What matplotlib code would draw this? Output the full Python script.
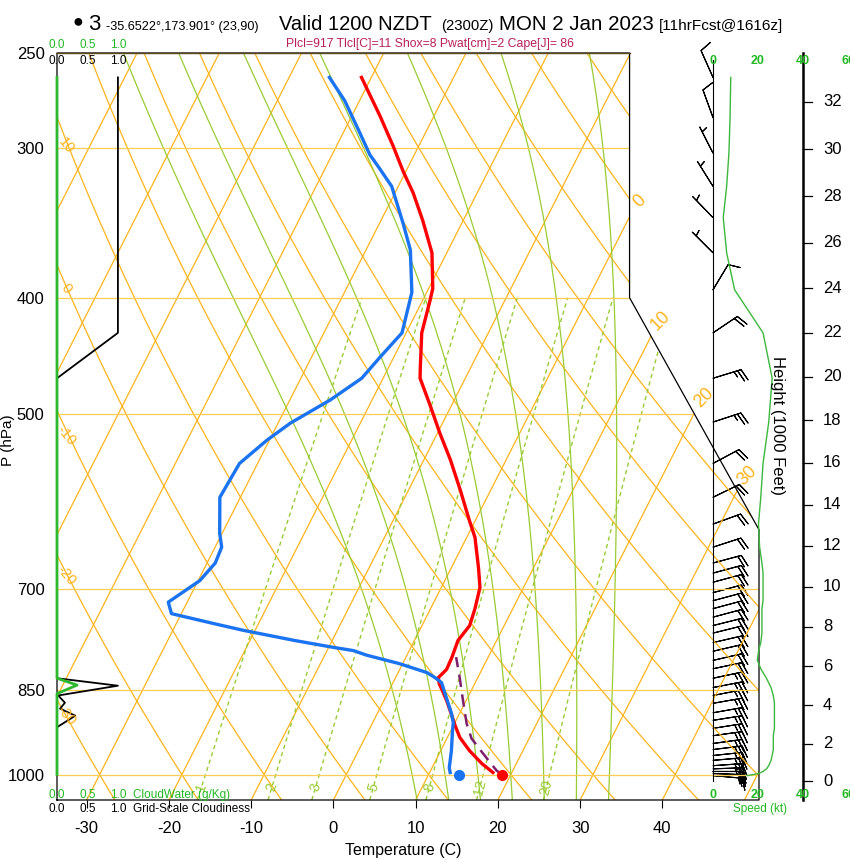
import numpy as np
import matplotlib
matplotlib.use("Agg")
from matplotlib import pyplot as plt

plt.rcParams['font.family'] = ['Liberation Sans', 'DejaVu Sans']

# ---- sounding (p in hPa, T in C) ----
temp_p = [996, 979, 955, 931, 910, 893, 867, 851, 840, 830, 817, 798, 773, 751, 727,
          698, 672, 634, 614, 579, 546, 519, 492, 467, 458, 428, 402, 393, 367, 345,
          327, 314, 299, 282, 262]
temp_t = [17.7, 15.8, 13.5, 11.5, 10.2, 9.2, 7.6, 6.5, 5.7, 5.2, 5.7, 5.6, 5.3, 5.8, 5.4,
          4.7, 3.3, 1.0, -0.7, -3.7, -6.8, -9.7, -12.6, -15.5, -16.1, -18.1, -19.1, -19.5,
          -21.8, -24.9, -27.8, -30.3, -33.1, -36.6, -41.2]

dewp_p = [996, 987, 955, 919, 905, 889, 864, 851, 838, 830, 822, 808, 795, 788, 783,
          773, 758, 749, 734, 718, 689, 666, 646, 629, 587, 550, 526, 509, 487, 467,
          449, 428, 396, 365, 347, 323, 312, 304, 289, 274, 262]
dewp_t = [12.5, 12.1, 11.3, 10.2, 9.8, 9.0, 7.5, 6.7, 5.9, 4.8, 3.5, -0.4, -4.9, -6.8,
          -9.5, -14.5, -21.4, -25.1, -31.2, -32.3, -29.8, -29.0, -29.2, -30.3, -32.5,
          -32.2, -30.3, -28.5, -25.1, -22.6, -21.7, -20.5, -21.8, -24.6, -27.1, -30.8,
          -33.4, -35.4, -38.5, -41.8, -45.1]

sfc_p = 1000
sfc_t = 18.9
sfc_td = 13.7

parcel_p = [1000, 992, 960, 933, 907, 867, 830, 798]
parcel_t = [18.9, 18.0, 15.3, 13.0, 11.5, 9.6, 7.8, 6.1]

# wind profile (direction deg, speed kt)
wind_p = [262, 283, 303, 323, 343, 367, 394, 428, 467, 508, 550, 587, 618, 646, 666,
          679, 691, 705, 716, 727, 739, 751, 762, 776, 789, 803, 816, 831, 846, 859,
          872, 888, 901, 915, 928, 942, 953, 964, 973, 983, 989, 994, 998, 1002]
wind_dir = [336, 340, 333, 328, 316, 315, 31, 56, 73, 72, 62, 64, 70, 72, 75,
            75, 75, 75, 75, 75, 75, 76, 76, 77, 77, 77, 78, 78, 79, 79,
            80, 80, 81, 81, 82, 82, 83, 84, 85, 86, 88, 90, 92, 95]
wind_spd = [7.8, 7.5, 7, 6, 4.5, 6, 9.5, 22, 26, 24.5, 22, 21, 20, 20.5, 21.5,
            22, 22, 22, 22, 21.5, 21.5, 21.5, 21.5, 21, 20, 19.5, 21, 23.5, 25.5, 26.5,
            27, 27, 27, 27, 26.5, 26.5, 26.5, 26, 25.5, 24.5, 23.5, 22, 20, 15]

# cloud panel
cloud_p = [262, 428, 467, 831, 843, 859, 871, 881, 893, 913, 1000]
cloud_frac = [1.0, 1.0, 0.0, 0.0, 1.0, 0.02, 0.13, 0.05, 0.3, 0.0, 0.0]
cwat_p = [262, 831, 842, 856, 1000]
cwat_val = [0.0, 0.0, 0.33, 0.0, 0.0]

isobars = [1000, 850, 700, 500, 400, 300]
p_ticks = [250, 300, 400, 500, 700, 850, 1000]
t_ticks = [-30, -20, -10, 0, 10, 20, 30, 40]
theta_lines = list(range(-30, 180, 10))
thetaw_lines = [8, 12, 16, 20, 24, 28, 32]
mixr_lines = [1, 2, 3, 5, 8, 12, 20]
iso_labels = [0, 10, 20, 30]
theta_labels = [-30, -20, -10, 0, 10]
height_ticks = list(range(0, 33, 2))

ORANGE = '#ffb31a'
ISOBAR = '#ffcc55'
MGREEN = '#99cc33'
TGREEN = '#22b822'
SGREEN = '#3cb83c'


def skewty(p):
    return 132.182 - 44.061 * np.log10(p)


def skewtx(t, y):
    return 0.54 * np.asarray(t) + 0.90692 * y


def dtdp_moist(t, p):
    es = 6.112 * np.exp(17.67 * (t - 273.15) / (t - 29.65))
    rs = 0.622 * es / (p - es)
    num = (287.04 * t + 2.501e6 * rs) / p
    den = 1005.7 + 2.501e6 ** 2 * rs * 0.622 / (287.04 * t * t)
    return num / den


def moist_adiabat(tw):
    res = {}
    for plist in (np.arange(1000., 249., -5.), np.arange(1000., 1051., 5.)):
        t = tw + 273.15
        res[plist[0]] = t
        for i in range(1, len(plist)):
            dp = plist[i] - plist[i - 1]
            k1 = dtdp_moist(t, plist[i - 1])
            k2 = dtdp_moist(t + k1 * dp, plist[i])
            t = t + 0.5 * (k1 + k2) * dp
            res[plist[i]] = t
    ps = np.array(sorted(res.keys()))
    return ps, np.array([res[k] for k in ps]) - 273.15


def mixr_td(w, p):
    e = w * p / (622. + w)
    a = np.log(e / 6.112)
    return 243.5 * a / (17.67 - a)


W, H = 850, 860
fig = plt.figure(figsize=(W / 100, H / 100), dpi=100)
ax = fig.add_axes([57 / W, 60 / H, 702 / W, 747 / H])
ybot, ytop = skewty(1050.), skewty(250.)
ax.set_xlim(-19, 27.1)
ax.set_ylim(ybot, ytop)
for s in ax.spines.values():
    s.set_visible(False)


def fx(xpx):
    return -19 + (xpx - 57) / 702 * 46.1


def fy(ypx):
    return ybot + (800 - ypx) / 747 * (ytop - ybot)


def ft(x, y, s, **kw):
    fig.text(x / W, 1 - y / H, s, **kw)


# outline / clip region
xc = [-19, 27.1, 27.1, 18.6, 18.6, -19, -19]
yc = [ybot, ybot, 9.0, 17.53, ytop, ytop, ybot]
clip = plt.Polygon(np.c_[xc, yc], closed=True, transform=ax.transData,
                   fill=False, edgecolor='none')
ax.add_patch(clip)

# isotherms
yy = np.array([ybot, ytop])
for t in range(-100, 60, 10):
    ax.plot(skewtx(t, yy), yy, color=ORANGE, lw=0.9, clip_path=clip)

# dry adiabats
pp = np.geomspace(1050, 250, 150)
for th in theta_lines:
    tt = (th + 273.15) * (pp / 1000.) ** 0.2857 - 273.15
    ax.plot(skewtx(tt, skewty(pp)), skewty(pp), color=ORANGE, lw=0.9, clip_path=clip)

# moist adiabats
for tw in thetaw_lines:
    ps, ts = moist_adiabat(tw)
    ax.plot(skewtx(ts, skewty(ps)), skewty(ps), color=MGREEN, lw=0.9, clip_path=clip)

# mixing ratio lines
pm = np.geomspace(1050, 400, 60)
for w in mixr_lines:
    td = mixr_td(w, pm)
    ax.plot(skewtx(td, skewty(pm)), skewty(pm), color=MGREEN, lw=1.0,
            ls=(0, (3, 2.5)), clip_path=clip)

# isobars
for p in isobars:
    ax.plot([-19, 27.1], [skewty(p)] * 2, color=ISOBAR, lw=0.9, clip_path=clip)

ax.plot(xc, yc, color='k', lw=0.9, clip_on=False)
ax.plot([-19, 18.6], [ytop, ytop], color='#5a4a1e', lw=1.0, clip_on=False)

# labels on the background lines
fig.canvas.draw()
tr = ax.transData
for w in mixr_lines:
    pa, pb = 1040., 1010.
    xa, ya = skewtx(mixr_td(w, pa), skewty(pa)), skewty(pa)
    xb, yb = skewtx(mixr_td(w, pb), skewty(pb)), skewty(pb)
    da, db = tr.transform((xa, ya)), tr.transform((xb, yb))
    ang = np.degrees(np.arctan2(db[1] - da[1], db[0] - da[0]))
    pl = 1025.
    ax.text(skewtx(mixr_td(w, pl), skewty(pl)), skewty(pl), str(w), color=MGREEN,
            fontsize=10, rotation=ang, ha='center', va='center')


def right_edge(y):
    if y < 9.0:
        return 27.1
    if y < 17.53:
        return 27.1 + (y - 9.0) * (18.6 - 27.1) / (17.53 - 9.0)
    return 18.6


ygrid = np.linspace(ybot, ytop, 3000)
for t in iso_labels:
    d = np.array([skewtx(t, y) - right_edge(y) for y in ygrid])
    i = np.argmin(np.abs(d))
    ax.annotate(str(t), (right_edge(ygrid[i]), ygrid[i]), xytext=(7, 11),
                textcoords='offset points', ha='center', va='center', rotation=45,
                color=ORANGE, fontsize=13, annotation_clip=False)

# dry adiabat labels sit just inside the left edge
for th, pl in zip(theta_labels, [893, 682, 521, 393, 299]):
    ax.text(fx(66), skewty(pl), str(th), ha='center', va='center', rotation=-50,
            color=ORANGE, fontsize=10.5)

# cloud panel
ax.plot(-19 + 4.0 * np.array(cloud_frac), skewty(np.array(cloud_p, float)),
        color='k', lw=1.3, clip_on=False)
ax.plot(-19 + 4.0 * np.array(cwat_val), skewty(np.array(cwat_p, float)),
        color='#2db82d', lw=2.0, clip_on=False)

# sounding
tp = np.array(temp_p, float)
ax.plot(skewtx(temp_t, skewty(tp)), skewty(tp), color='#ff0000', lw=2.4)
dp_ = np.array(dewp_p, float)
ax.plot(skewtx(dewp_t, skewty(dp_)), skewty(dp_), color='#1a73f0', lw=2.4)
pp_ = np.array(parcel_p, float)
ax.plot(skewtx(parcel_t, skewty(pp_)), skewty(pp_), color='#7d1f6e', lw=1.8,
        ls=(0, (5, 3)))
ax.plot(skewtx(sfc_t, skewty(sfc_p)), skewty(sfc_p), 'o', color='#ff0000', ms=7)
ax.plot(skewtx(sfc_td, skewty(sfc_p)), skewty(sfc_p), 'o', color='#1a73f0', ms=7)

# winds
x0 = fx(713)
kt = (fx(758.5) - x0) / 20.
wp = np.array(wind_p, float)
wd = np.radians(wind_dir)
ws = np.array(wind_spd)
ax.plot([x0, x0], [fy(60), fy(781)], color='k', lw=0.8, clip_on=False)
ax.barbs(np.full(len(wp), x0), skewty(wp), -ws * np.sin(wd), -ws * np.cos(wd),
         length=6.5, lw=0.8, color='k', clip_on=False)
ax.plot(x0 + ws * kt, skewty(wp), color=SGREEN, lw=1.0, clip_on=False)

# height axis
xh = fx(803)
ax.plot([xh, xh], [fy(53), fy(800)], color='k', lw=1.8, clip_on=False)
for h in height_ticks:
    p = 1013.25 * (1 - 6.8756e-6 * h * 1000) ** 5.2559
    ax.plot([xh, fx(812)], [skewty(p)] * 2, color='k', lw=0.9, clip_on=False)
    ax.text(fx(823), skewty(p), str(h), fontsize=12, ha='left', va='center')
ft(778, 425, 'Height (1000 Feet)', fontsize=12, rotation=270, ha='center', va='center')

# axes ticks
ax.set_yticks(skewty(np.array(p_ticks, float)))
ax.set_yticklabels([str(p) for p in p_ticks], fontsize=12)
ax.tick_params(axis='y', length=0, pad=9)
ax.set_xticks(skewtx(t_ticks, ybot))
ax.set_xticklabels([str(t) for t in t_ticks], fontsize=12)
ax.tick_params(axis='x', length=6, width=0.8, pad=9)
ft(403, 850, 'Temperature (C)', fontsize=11.5, ha='center', va='center')
ft(8, 440, 'P (hPa)', fontsize=11, rotation=90, ha='center', va='center')

# speed scale (the last label runs off the edge, as in the original)
for s, xp in zip(['0', '20', '40', '60'], [713, 758, 803, 848]):
    ft(xp, 61, s, color=TGREEN, fontsize=9, fontweight='bold', ha='center', va='center')
    ft(xp, 795, s, color=TGREEN, fontsize=9, fontweight='bold', ha='center', va='center')
ft(760, 809, 'Speed (kt)', color=TGREEN, fontsize=8.5, ha='center', va='center')

# cloud scales
for s, xp in zip(['0.0', '0.5', '1.0'], [57, 88, 118]):
    ft(xp, 45, s, color=TGREEN, fontsize=8.5, ha='center', va='center')
    ft(xp, 61, s, color='k', fontsize=8.5, ha='center', va='center')
    ft(xp, 795, s, color=TGREEN, fontsize=8.5, ha='center', va='center')
    ft(xp, 809, s, color='k', fontsize=8.5, ha='center', va='center')
ft(133, 795, 'CloudWater (g/Kg)', color=TGREEN, fontsize=8.5, ha='left', va='center')
ft(133, 809, 'Grid-Scale Cloudiness', color='k', fontsize=8.5, ha='left', va='center')

# header
ft(78, 22, '\u25cf', fontsize=13, ha='center', va='center')
ft(94, 30, '3', fontsize=16, ha='center', va='baseline')
ft(106, 30, '-35.6522\u00b0,173.901\u00b0 (23,90)', fontsize=9.1, ha='left', va='baseline')
ft(279, 30, 'Valid 1200 NZDT', fontsize=14.5, ha='left', va='baseline')
ft(441, 30, '(2300Z)', fontsize=10.7, ha='left', va='baseline')
ft(499, 30, 'MON 2 Jan 2023', fontsize=14.8, ha='left', va='baseline')
ft(659, 30, '[11hrFcst@1616z]', fontsize=11.1, ha='left', va='baseline')
ft(430, 44, 'Plcl=917 Tlcl[C]=11 Shox=8 Pwat[cm]=2 Cape[J]= 86', color='#b8205a',
   fontsize=8.8, ha='center', va='center')

fig.savefig('out.png', dpi=100)
